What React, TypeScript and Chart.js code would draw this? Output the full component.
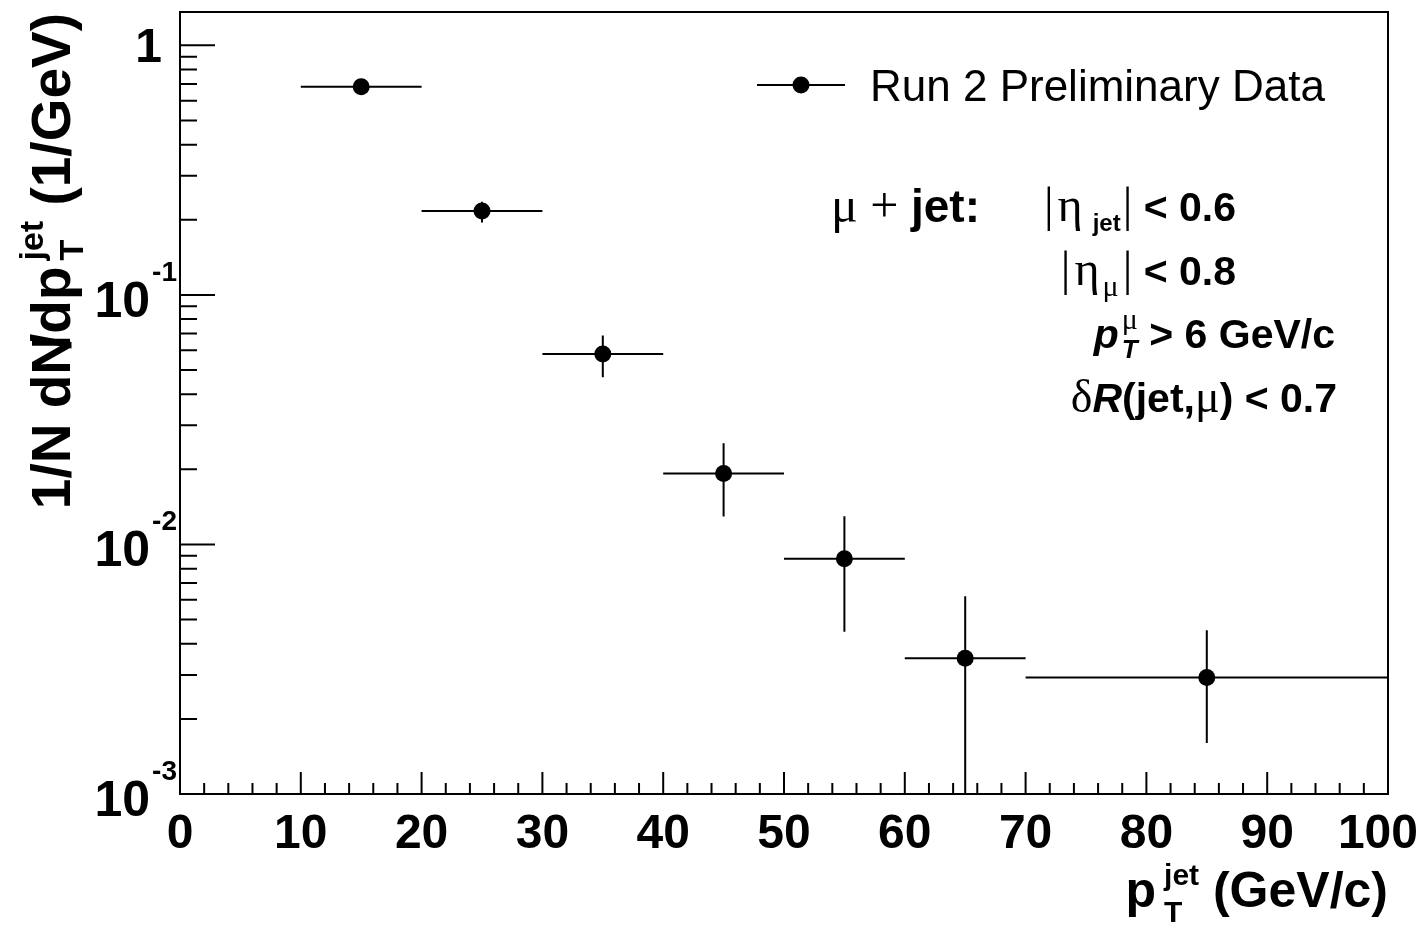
import React, { useEffect, useRef } from "react";
import { Chart, registerables } from "chart.js";

Chart.register(...registerables);

// Jet pT bins (GeV/c)
const binLow = [10, 20, 30, 40, 50, 60, 70];
const binHigh = [20, 30, 40, 50, 60, 70, 100];
const binCenter = [15, 25, 35, 45, 55, 65, 85];
// Normalised yield 1/N dN/dpT (1/GeV) and its uncertainties
const dNdpT = [0.683, 0.217, 0.0579, 0.01925, 0.00877, 0.0035, 0.00293];
const errHigh = [0.008, 0.0194, 0.0108, 0.0062, 0.0042, 0.0027, 0.0016];
const errLow = [0.008, 0.0222, 0.0111, 0.0063, 0.0043, 0.0027, 0.00133];

// Axis ranges and ticks
const xMin = 0;
const xMax = 100;
const yMin = 0.001;
const yMax = 1.36;
const xMajorTicks = [0, 10, 20, 30, 40, 50, 60, 70, 80, 90, 100];
const xMinorStep = 2;
const yDecades = [-3, -2, -1, 0];
const yMinorMultipliers = [2, 3, 4, 5, 6, 7, 8, 9];

const SANS = '"Liberation Sans", Arial, Helvetica, sans-serif';
const SERIF = '"Liberation Serif", "Times New Roman", serif';
const bold = (s: number) => `bold ${s}px ${SANS}`;
const boldIt = (s: number) => `italic bold ${s}px ${SANS}`;
const reg = (s: number) => `${s}px ${SANS}`;
const serif = (s: number) => `${s}px ${SERIF}`;

type TextPiece = { t: string; f: string; dy?: number; dx?: number };
type StackPiece = {
  sup: string;
  sub: string;
  fSup: string;
  fSub: string;
  supDy: number;
  subDy: number;
  dx?: number;
};
type Piece = TextPiece | StackPiece;

function isStack(p: Piece): p is StackPiece {
  return (p as StackPiece).sup !== undefined;
}

function pieceAdvance(ctx: CanvasRenderingContext2D, p: Piece): number {
  if (isStack(p)) {
    ctx.font = p.fSup;
    const a = ctx.measureText(p.sup).width;
    ctx.font = p.fSub;
    const b = ctx.measureText(p.sub).width;
    return Math.max(a, b);
  }
  ctx.font = p.f;
  return ctx.measureText(p.t).width;
}

function piecesWidth(ctx: CanvasRenderingContext2D, pieces: Piece[]): number {
  let total = 0;
  for (const p of pieces) total += (p.dx || 0) + pieceAdvance(ctx, p);
  return total;
}

function drawPieces(
  ctx: CanvasRenderingContext2D,
  pieces: Piece[],
  x: number,
  y: number,
  align: "left" | "right" | "center"
) {
  const total = piecesWidth(ctx, pieces);
  let cx = align === "right" ? x - total : align === "center" ? x - total / 2 : x;
  ctx.textAlign = "left";
  ctx.textBaseline = "alphabetic";
  ctx.fillStyle = "#000";
  for (const p of pieces) {
    cx += p.dx || 0;
    const w = pieceAdvance(ctx, p);
    if (isStack(p)) {
      ctx.font = p.fSup;
      ctx.fillText(p.sup, cx, y + p.supDy);
      ctx.font = p.fSub;
      ctx.fillText(p.sub, cx, y + p.subDy);
    } else {
      ctx.font = p.f;
      ctx.fillText(p.t, cx, y + (p.dy || 0));
    }
    cx += w;
  }
}

const rootStyle = {
  id: "rootStyle",
  beforeDatasetsDraw(chart: any) {
    const { ctx, chartArea: a } = chart;
    const x = chart.scales.x;
    const y = chart.scales.y;
    ctx.save();
    ctx.beginPath();
    ctx.rect(a.left, a.top, a.right - a.left, a.bottom - a.top);
    ctx.clip();
    ctx.strokeStyle = "#000";
    ctx.lineWidth = 2;
    for (let i = 0; i < dNdpT.length; i++) {
      const py = y.getPixelForValue(dNdpT[i]);
      const px = x.getPixelForValue(binCenter[i]);
      const lo = dNdpT[i] - errLow[i];
      ctx.beginPath();
      ctx.moveTo(x.getPixelForValue(binLow[i]), py);
      ctx.lineTo(x.getPixelForValue(binHigh[i]), py);
      ctx.moveTo(px, y.getPixelForValue(dNdpT[i] + errHigh[i]));
      ctx.lineTo(px, lo > 0 ? y.getPixelForValue(lo) : a.bottom);
      ctx.stroke();
    }
    ctx.restore();
  },
  afterDraw(chart: any) {
    const { ctx, chartArea: a, width } = chart;
    const x = chart.scales.x;
    const y = chart.scales.y;
    ctx.save();
    ctx.strokeStyle = "#000";

    // frame
    ctx.lineWidth = 2;
    ctx.strokeRect(a.left, a.top, a.right - a.left, a.bottom - a.top);

    // x ticks (inside the frame)
    ctx.beginPath();
    for (let v = xMin; v <= xMax + 1e-9; v += xMinorStep) {
      const px = x.getPixelForValue(v);
      const major = xMajorTicks.includes(Math.round(v));
      ctx.moveTo(px, a.bottom);
      ctx.lineTo(px, a.bottom - (major ? 22 : 11));
    }
    // y ticks
    for (const d of yDecades) {
      const base = Math.pow(10, d);
      const py = y.getPixelForValue(base);
      ctx.moveTo(a.left, py);
      ctx.lineTo(a.left + 35, py);
      for (const m of yMinorMultipliers) {
        const v = m * base;
        if (v > yMax) break;
        const pm = y.getPixelForValue(v);
        ctx.moveTo(a.left, pm);
        ctx.lineTo(a.left + 17, pm);
      }
    }
    ctx.stroke();

    // x tick labels, kept inside the page on the right
    for (const v of xMajorTicks) {
      const piece = [{ t: String(v), f: bold(48) }];
      const w = piecesWidth(ctx, piece);
      const cx = Math.min(x.getPixelForValue(v), width - 5 - w / 2);
      drawPieces(ctx, piece, cx, a.bottom + 54, "center");
    }
    // y tick labels
    for (const d of yDecades) {
      const py = y.getPixelForValue(Math.pow(10, d));
      if (d === 0) {
        drawPieces(ctx, [{ t: "1", f: bold(48) }], a.left - 18, py + 17, "right");
      } else {
        drawPieces(
          ctx,
          [
            { t: "10", f: bold(50) },
            { t: String(d), f: bold(28), dy: -36, dx: 2 },
          ],
          a.left - 3,
          py + 22,
          "right"
        );
      }
    }

    // x axis title
    drawPieces(
      ctx,
      [
        { t: "p", f: bold(50) },
        { sup: "jet", sub: "T", fSup: bold(30), fSub: bold(30), supDy: -22, subDy: 15, dx: 8 },
        { t: " (GeV/c)", f: bold(50) },
      ],
      a.right,
      907,
      "right"
    );

    // y axis title (rotated)
    ctx.save();
    ctx.translate(70, a.top + 1);
    ctx.rotate(-Math.PI / 2);
    drawPieces(
      ctx,
      [
        { t: "1/N dN", f: bold(55) },
        { t: "/", f: bold(55), dx: -14 },
        { t: "dp", f: bold(55) },
        { sup: "jet", sub: "T", fSup: bold(34), fSub: bold(34), supDy: -27, subDy: 13, dx: 6 },
        { t: " (1/GeV)", f: bold(55) },
      ],
      0,
      0,
      "right"
    );
    ctx.restore();

    // legend
    ctx.lineWidth = 2;
    ctx.beginPath();
    ctx.moveTo(757, 85);
    ctx.lineTo(845, 85);
    ctx.stroke();
    ctx.beginPath();
    ctx.arc(801, 85, 8.5, 0, Math.PI * 2);
    ctx.fillStyle = "#000";
    ctx.fill();
    drawPieces(ctx, [{ t: "Run 2 Preliminary Data", f: reg(44) }], 870, 101, "left");

    // selection cuts
    drawPieces(
      ctx,
      [
        { t: "\u03bc", f: serif(50) },
        { t: " + ", f: serif(50) },
        { t: "jet:", f: bold(46) },
      ],
      831,
      222,
      "left"
    );
    drawPieces(
      ctx,
      [
        { t: "|", f: serif(48) },
        { t: "\u03b7", f: serif(48), dx: 4 },
        { t: "jet", f: bold(24), dy: 10, dx: 10 },
        { t: "|", f: serif(48), dx: 2 },
        { t: " < 0.6", f: bold(41) },
      ],
      1236,
      221,
      "right"
    );
    drawPieces(
      ctx,
      [
        { t: "|", f: serif(48) },
        { t: "\u03b7", f: serif(48), dx: 4 },
        { t: "\u03bc", f: serif(30), dy: 11, dx: 3 },
        { t: "|", f: serif(48), dx: 4 },
        { t: " < 0.8", f: bold(41) },
      ],
      1236,
      285,
      "right"
    );
    drawPieces(
      ctx,
      [
        { t: "p", f: boldIt(41) },
        { sup: "\u03bc", sub: "T", fSup: serif(30), fSub: boldIt(26), supDy: -19, subDy: 10, dx: 3 },
        { t: " > 6 GeV/c", f: bold(41) },
      ],
      1335,
      348,
      "right"
    );
    drawPieces(
      ctx,
      [
        { t: "\u03b4", f: serif(46) },
        { t: "R", f: boldIt(41) },
        { t: "(jet,", f: bold(41) },
        { t: "\u03bc", f: serif(46) },
        { t: ") < 0.7", f: bold(41) },
      ],
      1337,
      412,
      "right"
    );

    ctx.restore();
  },
};

export default function App() {
  const canvasRef = useRef<HTMLCanvasElement | null>(null);

  useEffect(() => {
    const canvas = canvasRef.current;
    if (!canvas) return;
    const chart = new Chart(canvas, {
      type: "scatter",
      data: {
        datasets: [
          {
            label: "Run 2 Preliminary Data",
            data: binCenter.map((c, i) => ({ x: c, y: dNdpT[i] })),
            backgroundColor: "#000",
            borderColor: "#000",
            pointRadius: 8.5,
            pointHoverRadius: 8.5,
            pointBorderWidth: 0,
          },
        ],
      },
      options: {
        responsive: false,
        animation: false,
        devicePixelRatio: 1,
        layout: { padding: { left: 180, right: 35, top: 12, bottom: 139 } },
        plugins: { legend: { display: false }, tooltip: { enabled: false } },
        events: [],
        scales: {
          x: { type: "linear", min: xMin, max: xMax, display: false },
          y: { type: "logarithmic", min: yMin, max: yMax, display: false },
        },
      },
      plugins: [rootStyle],
    });
    return () => chart.destroy();
  }, []);

  return (
    <div style={{ position: "fixed", left: 0, top: 0, width: 1423, height: 933, background: "#fff" }}>
      <canvas ref={canvasRef} width={1423} height={933} style={{ display: "block" }} />
    </div>
  );
}
